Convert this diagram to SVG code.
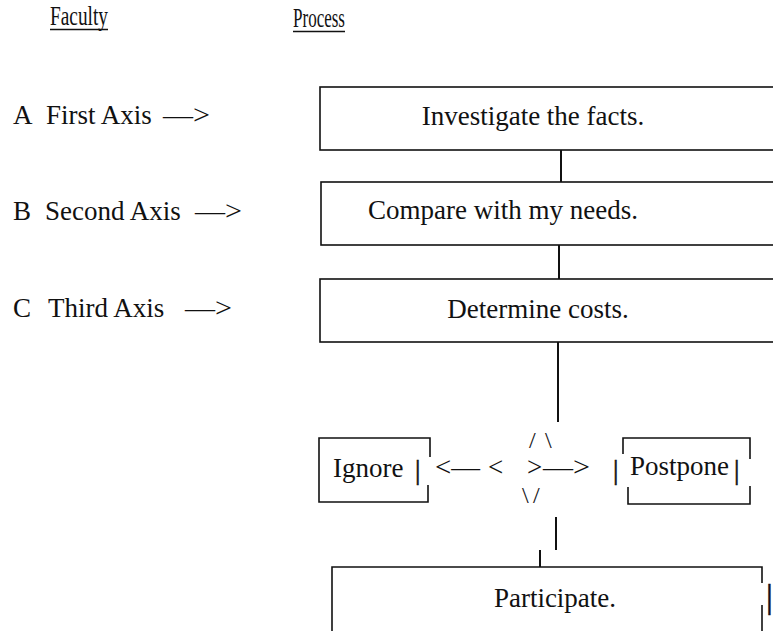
<svg xmlns="http://www.w3.org/2000/svg" width="773" height="631" viewBox="0 0 773 631">
  <style>
    text { font-family: "Liberation Serif", "Times New Roman", serif; font-size: 27px; fill: #111; }
    .small { font-size: 24px; }
    .bar { stroke: #111; stroke-width: 0.6; }
    .mid { text-anchor: middle; }
    .frame { fill: none; stroke: #111; stroke-width: 1.6; }
    .link { fill: none; stroke: #111; stroke-width: 2; }
  </style>
  <rect width="773" height="631" fill="#fff"/>

  <!-- column headings -->
  <g id="heading-faculty">
    <text x="50" y="25" textLength="58" lengthAdjust="spacingAndGlyphs">Faculty</text>
    <line x1="50" y1="29.5" x2="108" y2="29.5" stroke="#111" stroke-width="1.4"/>
  </g>
  <g id="heading-process">
    <text x="293" y="27" textLength="52" lengthAdjust="spacingAndGlyphs">Process</text>
    <line x1="293" y1="31.5" x2="345" y2="31.5" stroke="#111" stroke-width="1.4"/>
  </g>

  <!-- faculty labels -->
  <g id="axis-a">
    <text x="13" y="124">A</text>
    <text x="46" y="124">First Axis</text>
    <text x="163" y="124" textLength="47" lengthAdjust="spacingAndGlyphs">—&gt;</text>
  </g>
  <g id="axis-b">
    <text x="13" y="220">B</text>
    <text x="45" y="220">Second Axis</text>
    <text x="195" y="220" textLength="47" lengthAdjust="spacingAndGlyphs">—&gt;</text>
  </g>
  <g id="axis-c">
    <text x="13" y="317">C</text>
    <text x="48" y="317">Third Axis</text>
    <text x="185" y="317" textLength="47" lengthAdjust="spacingAndGlyphs">—&gt;</text>
  </g>

  <!-- process steps -->
  <g id="step-investigate">
    <rect class="frame" x="320" y="87" width="470" height="63"/>
    <text class="mid" x="533" y="125">Investigate the facts.</text>
  </g>
  <g id="step-compare">
    <rect class="frame" x="321" y="182" width="470" height="63"/>
    <text class="mid" x="503" y="219">Compare with my needs.</text>
  </g>
  <g id="step-costs">
    <rect class="frame" x="320" y="279" width="470" height="63"/>
    <text class="mid" x="538" y="318">Determine costs.</text>
  </g>

  <!-- decision point -->
  <g id="decision">
    <text class="small" x="529" y="448">/</text>
    <text class="small" x="545" y="448">\</text>
    <text class="small" x="522" y="503">\</text>
    <text class="small" x="533" y="503">/</text>
    <text x="435" y="476" textLength="45" lengthAdjust="spacingAndGlyphs">&lt;—</text>
    <text x="488" y="476">&lt;</text>
    <text x="527" y="476">&gt;</text>
    <text x="543" y="476" textLength="47" lengthAdjust="spacingAndGlyphs">—&gt;</text>
    <text class="bar" x="613" y="479">|</text>
  </g>

  <g id="outcome-ignore">
    <path class="frame" d="M430,457 V438 H319 V502 H428 V485"/>
    <text x="333" y="477">Ignore</text>
    <text class="bar" x="415" y="479">|</text>
  </g>

  <g id="outcome-postpone">
    <path class="frame" d="M623,454 V438 H750 V459"/>
    <path class="frame" d="M628,487 V504 H750 V486"/>
    <text x="630" y="475">Postpone</text>
    <text class="bar" x="734" y="479">|</text>
  </g>

  <g id="outcome-participate">
    <path class="frame" d="M332,640 V567 H762 V583"/>
    <path class="frame" d="M762,605 V640"/>
    <text class="mid" x="555" y="607">Participate.</text>
    <text class="bar" x="766" y="608" style="font-size:34px">|</text>
  </g>

  <!-- connectors -->
  <g id="connectors">
    <path class="link" d="M561,150 V182"/>
    <path class="link" d="M559,245 V279"/>
    <path class="link" d="M558,342 V422"/>
    <path class="link" d="M556,517 V550"/>
    <path class="link" d="M540,550 V567"/>
  </g>
</svg>
